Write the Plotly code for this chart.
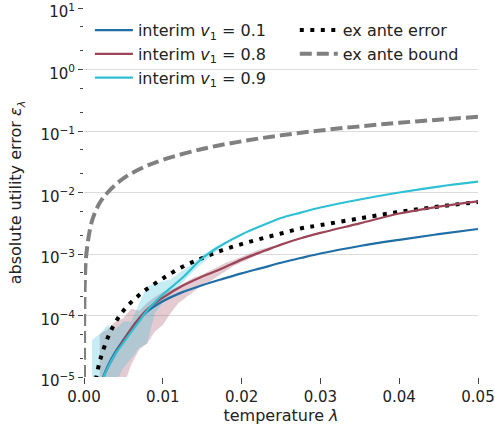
import plotly.graph_objects as go

# ---- data ----
lam_c = [0.0015, 0.002, 0.003, 0.004, 0.005, 0.006, 0.007, 0.008, 0.010, 0.0125, 0.015,
         0.0175, 0.020, 0.0225, 0.025, 0.0275, 0.030, 0.035, 0.040, 0.045, 0.050]
interim_01 = [4.0e-6, 7.0e-6, 1.5e-5, 2.6e-5, 4.0e-5, 6.0e-5, 8.5e-5, 1.15e-4, 1.7e-4, 2.4e-4, 3.1e-4,
              3.9e-4, 4.85e-4, 5.9e-4, 7.2e-4, 8.6e-4, 1.02e-3, 1.35e-3, 1.7e-3, 2.1e-3, 2.55e-3]
interim_08 = [4.0e-6, 7.0e-6, 1.4e-5, 2.4e-5, 3.9e-5, 6.2e-5, 9.0e-5, 1.25e-4, 1.95e-4, 3.05e-4, 4.3e-4,
              5.8e-4, 8.1e-4, 1.08e-3, 1.42e-3, 1.8e-3, 2.2e-3, 3.15e-3, 4.55e-3, 5.9e-3, 7.2e-3]
interim_09 = [4.0e-6, 7.0e-6, 1.4e-5, 2.4e-5, 3.6e-5, 5.4e-5, 8.0e-5, 1.2e-4, 2.2e-4, 4.1e-4, 8.5e-4,
              1.4e-3, 2.08e-3, 2.87e-3, 3.85e-3, 4.7e-3, 5.7e-3, 7.7e-3, 1.0e-2, 1.25e-2, 1.5e-2]
ex_ante_error = [9.0e-6, 1.8e-5, 4.3e-5, 7.8e-5, 1.2e-4, 1.65e-4, 2.15e-4, 2.7e-4, 4.0e-4, 6.2e-4, 8.6e-4,
                 1.15e-3, 1.45e-3, 1.78e-3, 2.15e-3, 2.6e-3, 2.95e-3, 3.8e-3, 4.85e-3, 5.9e-3, 7.0e-3]

lam_b = [0.000003, 0.00001, 0.00003, 0.0001, 0.0003, 0.001, 0.002, 0.003, 0.005, 0.0075, 0.01,
         0.015, 0.02, 0.025, 0.03, 0.035, 0.04, 0.045, 0.05]
ex_ante_bound = [1.0e-5, 3.4e-5, 1.0e-4, 3.4e-4, 1.0e-3, 3.4e-3, 6.8e-3, 1.0e-2, 1.7e-2, 2.55e-2, 3.4e-2,
                 5.1e-2, 6.8e-2, 8.5e-2, 0.102, 0.119, 0.136, 0.153, 0.17]

lam_band08 = [0.002, 0.003, 0.004, 0.005, 0.006, 0.007, 0.008, 0.009, 0.010, 0.011, 0.012, 0.013,
              0.014, 0.015, 0.016, 0.017, 0.018, 0.019, 0.020, 0.022, 0.024]
band08_lo = [3e-6, 4e-6, 5e-6, 7e-6, 1.6e-5, 2.8e-5, 3.5e-5, 5.5e-5, 7e-5, 1.1e-4, 1.6e-4, 2.0e-4,
             2.5e-4, 3.1e-4, 3.6e-4, 4.4e-4, 5.3e-4, 6.4e-4, 7.4e-4, 9.6e-4, 1.2e-3]
band08_hi = [5e-5, 6e-5, 8e-5, 9e-5, 1.3e-4, 1.2e-4, 1.6e-4, 2.0e-4, 2.4e-4, 2.6e-4, 3.0e-4, 3.6e-4,
             4.2e-4, 4.6e-4, 5.3e-4, 6.2e-4, 7.2e-4, 8.0e-4, 9.0e-4, 1.15e-3, 1.35e-3]

lam_band09 = [0.001, 0.002, 0.003, 0.004, 0.005, 0.006, 0.007, 0.008, 0.009, 0.010, 0.011, 0.012,
              0.013, 0.014, 0.015, 0.016, 0.017]
band09_lo = [3e-6, 4e-6, 6e-6, 8e-6, 1.4e-5, 2e-5, 3e-5, 3.5e-5, 1.1e-4, 1.6e-4, 2.2e-4, 3.0e-4,
             4.0e-4, 5.4e-4, 7.0e-4, 9.0e-4, 1.15e-3]
band09_hi = [4e-5, 5e-5, 7e-5, 6e-5, 8e-5, 8e-5, 1.6e-4, 3e-4, 3.3e-4, 3.6e-4, 3.9e-4, 4.8e-4,
             6.0e-4, 7.4e-4, 9.2e-4, 1.15e-3, 1.4e-3]

x_ticks = [0.0, 0.01, 0.02, 0.03, 0.04, 0.05]
y_tickvals = [1e-5, 1e-4, 1e-3, 1e-2, 1e-1, 1e0, 1e1]
y_ticktext = ["10<sup>\u22125</sup>", "10<sup>\u22124</sup>", "10<sup>\u22123</sup>", "10<sup>\u22122</sup>",
              "10<sup>\u22121</sup>", "10<sup>0</sup>", "10<sup>1</sup>"]

BLUE = "#1f6ea6"
MAROON = "#9c4458"
CYAN = "#2fc0d4"

fig = go.Figure()

def band(x, lo, hi, color):
    fig.add_trace(go.Scatter(x=x + x[::-1], y=hi + lo[::-1], fill="toself", fillcolor=color,
                             line=dict(width=0), mode="lines", showlegend=False, hoverinfo="skip"))

band(lam_band08, band08_lo, band08_hi, "rgba(156,68,88,0.28)")
band(lam_band09, band09_lo, band09_hi, "rgba(47,192,212,0.28)")

fig.add_trace(go.Scatter(x=lam_b, y=ex_ante_bound, mode="lines", name="ex ante bound",
                         line=dict(color="#808080", width=4, dash="12px,5px", shape="spline"),
                         legend="legend2", legendgroup="b", legendrank=2))
fig.add_trace(go.Scatter(x=lam_c, y=ex_ante_error, mode="lines", name="ex ante error",
                         line=dict(color="black", width=4, dash="4px,6.5px", shape="spline"),
                         legend="legend2", legendgroup="a", legendrank=1))
fig.add_trace(go.Scatter(x=lam_c, y=interim_01, mode="lines", name="interim <i>v</i><sub>1</sub> = 0.1",
                         line=dict(color=BLUE, width=2.2, shape="spline"), legendgroup="c1", legendrank=1))
fig.add_trace(go.Scatter(x=lam_c, y=interim_08, mode="lines", name="interim <i>v</i><sub>1</sub> = 0.8",
                         line=dict(color=MAROON, width=2.2, shape="spline"), legendgroup="c2", legendrank=2))
fig.add_trace(go.Scatter(x=lam_c, y=interim_09, mode="lines", name="interim <i>v</i><sub>1</sub> = 0.9",
                         line=dict(color=CYAN, width=2.2, shape="spline"), legendgroup="c3", legendrank=3))

fig.update_layout(
    width=495, height=431,
    margin=dict(l=84, r=17, t=8, b=54, autoexpand=False),
    paper_bgcolor="white", plot_bgcolor="white",
    font=dict(family="DejaVu Sans", size=15, color="#222222"),
    legend=dict(x=0.015, y=0.986, xanchor="left", yanchor="top", bgcolor="rgba(0,0,0,0)",
                traceorder="grouped", tracegroupgap=0, itemwidth=38, font=dict(size=16)),
    legend2=dict(x=0.535, y=0.986, xanchor="left", yanchor="top", bgcolor="rgba(0,0,0,0)",
                 traceorder="grouped", tracegroupgap=0, itemwidth=38, font=dict(size=16)),
    xaxis=dict(range=[0, 0.05], tickvals=x_ticks, tickformat=".2f", ticks="outside", ticklen=6,
               tickcolor="#444444", showgrid=False, zeroline=False, showline=False, automargin=False,
               title=dict(text="temperature <i>λ</i>", standoff=4, font=dict(size=16)),
               tickfont=dict(size=15)),
    yaxis=dict(type="log", range=[-5, 1], tickvals=y_tickvals, ticktext=y_ticktext,
               ticks="outside", ticklen=5, tickcolor="#444444", showgrid=True, gridcolor="#dcdcdc",
               gridwidth=1, zeroline=False, showline=False, ticklabeloverflow="allow", automargin=False,
               ticklabelshift=4,
               minor=dict(ticks="outside", ticklen=3, tickcolor="#444444", showgrid=False),
               title=dict(text="absolute utility error <i>ε<sub>λ</sub></i>", standoff=14, font=dict(size=16)),
               tickfont=dict(size=15)),
)

fig.write_html("out.html")
